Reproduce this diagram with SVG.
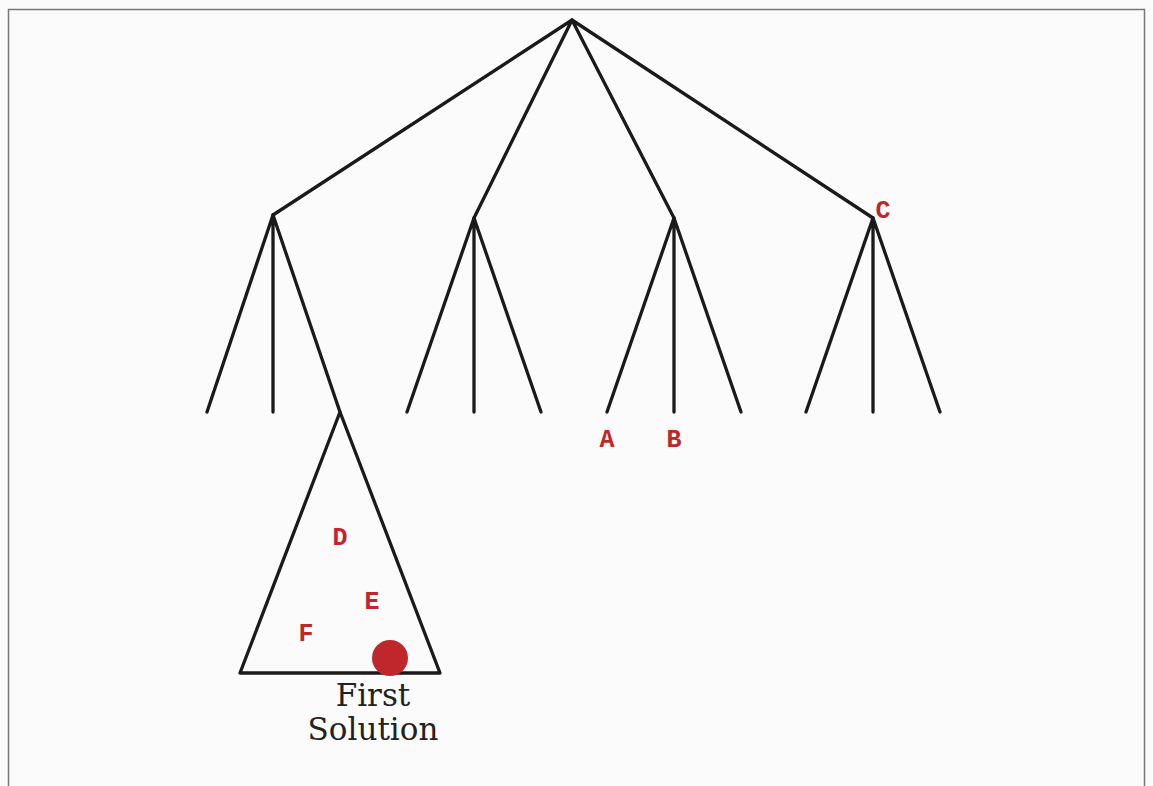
<svg xmlns="http://www.w3.org/2000/svg" width="1153" height="786" viewBox="0 0 1153 786">
<style>
.e{stroke:#1a1a1a;stroke-width:3.3;fill:none;stroke-linecap:round;stroke-linejoin:round}
.l{font-family:"Liberation Mono",monospace;font-weight:bold;font-size:25px;fill:#c0272d;text-anchor:middle}
.t{font-family:"DejaVu Serif","Liberation Serif",serif;font-size:31px;fill:#222;text-anchor:middle}
</style>
<rect x="0" y="0" width="1153" height="786" fill="#fbfbfb"/>
<path d="M8.5 786 V9.5 H1144.5 V786" fill="none" stroke="#777" stroke-width="1.5"/>
<g id="connectors">
<path class="e" d="M572 20 L273 215 M572 20 L474 218 M572 20 L674 218 M572 20 L873 218"/>
<path class="e" d="M273 215 L207 412 M273 215 L273 412 M273 215 L340 412"/>
<path class="e" d="M474 218 L407 412 M474 218 L474 412 M474 218 L541 412"/>
<path class="e" d="M674 218 L607 412 M674 218 L674 412 M674 218 L741 412"/>
<path class="e" d="M873 218 L806 412 M873 218 L873 412 M873 218 L940 412"/>
</g>
<g id="subtree">
<path class="e" d="M340 412 L240 673 L440 673 Z"/>
<text class="l" x="340" y="545">D</text>
<text class="l" x="372" y="609">E</text>
<text class="l" x="306" y="641">F</text>
</g>
<g id="solution">
<circle cx="390" cy="658" r="18" fill="#c0272d"/>
<text class="t" x="373" y="706">First</text>
<text class="t" x="373" y="740">Solution</text>
</g>
<g id="labelA"><text class="l" x="607" y="447">A</text></g>
<g id="labelB"><text class="l" x="674" y="447">B</text></g>
<g id="labelC"><text class="l" x="883" y="218">C</text></g>
</svg>
